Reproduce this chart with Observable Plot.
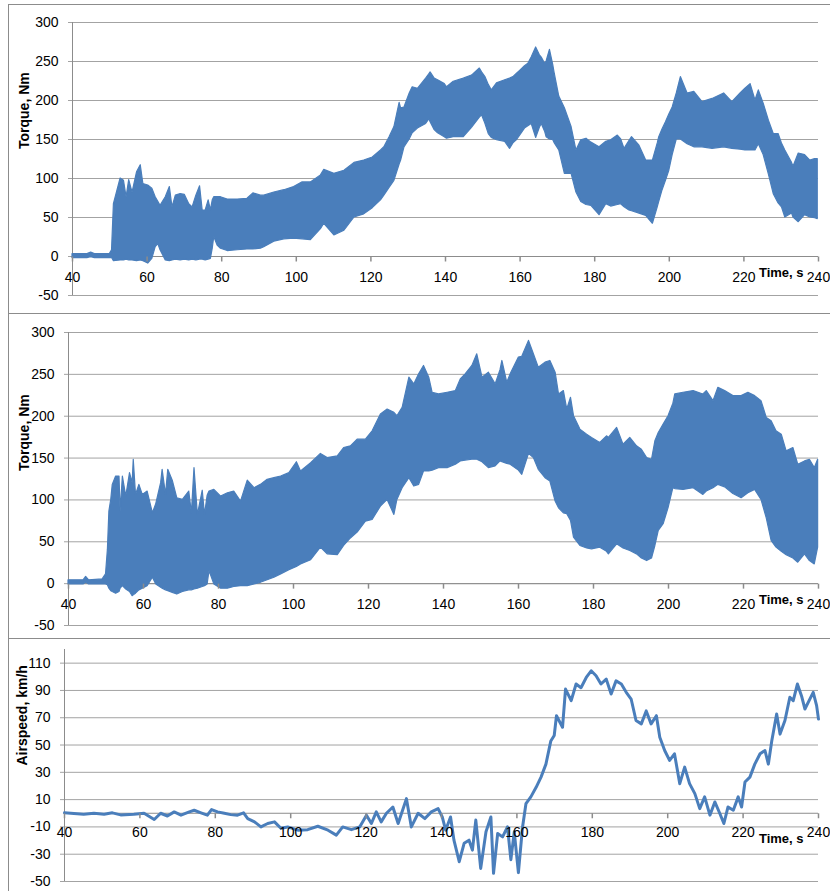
<!DOCTYPE html>
<html><head><meta charset="utf-8">
<script src="https://cdn.jsdelivr.net/npm/d3@7"></script>
<script src="https://cdn.jsdelivr.net/npm/@observablehq/plot@0.6"></script>
<style>
body{margin:0;background:#fff;}
#wrap{position:relative;width:830px;height:891px;overflow:hidden;font-family:"Liberation Sans",Arial,sans-serif;}
.panel{position:absolute;left:8px;width:830px;border-top:1px solid #8c8c8c;border-left:1px solid #8c8c8c;}
.panel svg{display:block;}
</style></head><body>
<div id="wrap">
<div class="panel" id="p1" style="top:4px;height:308px"></div>
<div class="panel" id="p2" style="top:313px;height:324px"></div>
<div class="panel" id="p3" style="top:638px;height:260px"></div>
</div>
<script>
// ---- data ----
const xTicks = [40, 60, 80, 100, 120, 140, 160, 180, 200, 220, 240];
const xDomain = [40, 240];
const xLabel = "Time, s";

const torqueTicks = [-50, 0, 50, 100, 150, 200, 250, 300];
const torqueDomain = [-50, 300];
const torqueLabel = "Torque, Nm";

const airTicks = [-50, -30, -10, 10, 30, 50, 70, 90, 110];
const airDomain = [-50, 120];
const airLabel = "Airspeed, km/h";

// Panel 1: torque band (upper / lower envelope)
const time1 = [
  40, 44, 45, 46, 50, 50.6, 51.1, 52.9, 53.8, 54.5,
  55.2, 56.1, 57.3, 58.3, 59, 60.3, 61.4, 62.3, 63, 63.6,
  65, 66.1, 66.8, 67.7, 69, 70.1, 71.3, 72.2, 73.2, 74.2,
  74.9, 75.7, 76.5, 77.1, 77.6, 78, 78.9, 79.8, 81.6, 84.3,
  86.9, 88.5, 90.5, 91.4, 94.1, 96.8, 99.4, 101.7, 103.9, 106.6,
  107.5, 110.2, 112.9, 115.6, 118.2, 120.5, 122.7, 123.6, 125, 126.3,
  127.7, 128.1, 129, 130.4, 131.2, 132.6, 134.8, 135.7, 136, 137.1,
  138, 139.8, 140.4, 142.2, 144.9, 147.1, 147.6, 149.2, 149.8, 150.7,
  151.6, 152.4, 153.8, 156, 157.3, 158.2, 159.1, 160, 161.3, 162.2,
  163.1, 164.3, 165.3, 165.8, 166.7, 167.1, 168, 168.9, 169.3, 170.5,
  172, 173.8, 175.1, 176.4, 177.8, 179.1, 181.3, 183.1, 184.4, 186.2,
  187.1, 188, 189.3, 190, 192, 193.8, 195.6, 196.9, 197.3, 198.2,
  199.1, 200, 200.9, 202, 203.1, 204.9, 206.7, 208.9, 211.6, 214.7,
  216.9, 219.1, 220.4, 221.8, 223.1, 224, 225.3, 226.7, 228, 229.3,
  230.2, 231.1, 232.9, 233.3, 234.7, 236.4, 237.8, 239.1, 239.8
];
const high1 = [
  3, 3, 5, 3, 3, 8, 67, 100, 97, 76,
  98, 82, 108, 117, 93, 91, 87, 76, 70, 65,
  76, 89, 63, 78, 80, 79, 67, 63, 78, 90,
  59, 59, 72, 59, 72, 76, 76, 76, 73, 73,
  74, 81, 78, 78, 82, 85, 89, 95, 95, 104,
  111, 106, 110, 120, 123, 127, 136, 140, 153, 166,
  197, 190, 191, 209, 217, 215, 228, 234, 236, 228,
  226, 221, 217, 224, 228, 232, 234, 241, 236, 230,
  220, 213, 222, 226, 228, 230, 234, 238, 244, 247,
  255, 268, 258, 255, 247, 250, 265, 245, 234, 205,
  190, 166, 136, 149, 151, 146, 140, 147, 149, 155,
  150, 138, 148, 153, 142, 123, 123, 145, 153, 163,
  172, 182, 191, 209, 230, 209, 211, 198, 202, 209,
  198, 209, 215, 221, 200, 213, 196, 174, 157, 157,
  145, 136, 120, 115, 132, 130, 123, 125, 125
];
const low1 = [
  -2, -2, -1, -2, -2, -2, -6, -5, -5, -4,
  -5, -5, -6, -5, -6, -9, -3, 12, 16, 8,
  -5, -6, -5, -4, -5, -4, -5, -4, -5, -4,
  -4, -5, -4, -3, 10, 25, 14, 10, 7, 8,
  9, 9, 10, 12, 19, 22, 23, 22, 21, 35,
  42, 27, 33, 50, 54, 62, 72, 78, 88, 97,
  118, 123, 140, 150, 158, 164, 170, 176, 172, 162,
  158, 153, 151, 153, 153, 165, 168, 178, 181, 170,
  157, 152, 149, 147, 138, 145, 149, 155, 164, 167,
  170, 152, 165, 170, 160, 153, 150, 149, 145, 136,
  106, 106, 82, 70, 66, 65, 53, 67, 64, 66,
  67, 63, 59, 58, 55, 52, 42, 63, 70, 85,
  97, 110, 130, 150, 150, 144, 140, 140, 138, 140,
  138, 137, 136, 136, 136, 144, 130, 105, 80, 68,
  63, 50, 55, 50, 44, 53, 50, 49, 48
];

// Panel 2: torque band (upper / lower envelope)
const time2 = [
  40, 44, 44.7, 45.5, 49.1, 50, 50.5, 50.9, 51.4, 51.8,
  52.7, 53.6, 53.9, 54.5, 55.4, 56.4, 57.1, 57.4, 58, 58.9,
  59.8, 61.1, 62.5, 63.4, 64.7, 65.1, 66, 66.6, 67.8, 69,
  70.5, 72.2, 72.9, 73.6, 74.5, 75.8, 76.4, 77.1, 77.6, 78.9,
  80.7, 82.5, 84.2, 86, 87.8, 89.6, 91.3, 93.1, 94.9, 96.7,
  98.9, 100.9, 102, 104.7, 107.3, 109.1, 111.8, 113.5, 115.3, 117.1,
  119.3, 121.1, 123.3, 125.1, 126.9, 127.7, 129.1, 130.9, 132.2, 133.5,
  134.8, 136.2, 137.1, 138.8, 141.1, 143.3, 144.6, 145.9, 147.7, 149,
  150.4, 152.1, 153.9, 155.2, 155.7, 157, 157.9, 160.1, 161, 162.8,
  164.1, 165.4, 167.2, 168.5, 169.9, 170.8, 172.1, 173, 174, 174.8,
  176.5, 178.3, 179.6, 181.8, 183.6, 184.1, 186.3, 188, 189.8, 191.6,
  192.9, 194.3, 195.6, 196.5, 197.4, 198.7, 200, 201.3, 201.8, 204,
  206.7, 209.3, 210.2, 212, 213.3, 215.1, 217.3, 219.5, 221.3, 223.1,
  224.8, 226.2, 227.5, 228.8, 230.2, 231.5, 233.3, 234.6, 236.4, 237.7,
  239, 239.9
];
const high2 = [
  4, 4, 8, 4, 5, 11, 40, 86, 100, 118,
  128, 128, 86, 128, 104, 132, 120, 148, 106, 118,
  106, 110, 84, 95, 120, 136, 106, 136, 123, 102,
  100, 110, 84, 138, 82, 111, 82, 105, 110, 112,
  104, 108, 110, 98, 123, 114, 118, 124, 126, 128,
  132, 145, 134, 144, 155, 150, 152, 162, 164, 172,
  172, 182, 202, 208, 204, 200, 210, 246, 238, 250,
  260, 246, 228, 226, 228, 230, 244, 250, 260, 274,
  246, 252, 238, 255, 266, 240, 250, 270, 271, 290,
  274, 258, 264, 266, 252, 226, 230, 208, 222, 200,
  184, 178, 174, 168, 176, 174, 186, 166, 174, 164,
  160, 150, 148, 170, 180, 190, 200, 215, 226, 228,
  230, 226, 230, 218, 234, 230, 224, 224, 228, 224,
  218, 198, 194, 182, 178, 158, 162, 142, 146, 148,
  138, 148
];
const low2 = [
  -1, -1, 1, -1, -1, -1, -2, -6, -9, -10,
  -12, -10, -6, -3, -7, -10, -15, -14, -12, -8,
  -6, -3, 7, -1, -5, -6, -8, -9, -11, -13,
  -10, -8, -8, -7, -6, -4, -3, -1, 15, -1,
  -6, -6, -4, -3, -3, -1, 1, 4, 7, 11,
  16, 20, 23, 28, 43, 35, 34, 45, 54, 61,
  74, 76, 92, 100, 82, 100, 114, 126, 116, 118,
  134, 134, 135, 138, 138, 142, 146, 147, 148, 148,
  145, 138, 140, 146, 145, 143, 142, 135, 130, 155,
  150, 136, 126, 122, 98, 90, 84, 83, 75, 55,
  45, 42, 41, 43, 38, 35, 47, 42, 39, 35,
  30, 27, 30, 45, 63, 71, 90, 114, 113, 112,
  114, 106, 110, 114, 118, 115, 107, 102, 108, 112,
  100, 78, 51, 43, 38, 34, 30, 25, 35, 27,
  23, 43
];

// Panel 3: airspeed line
const time3 = [
  40, 42.5, 45.1, 47.8, 50.5, 52.7, 54.9, 58.4, 61.1, 63.8,
  65.5, 67.3, 69.1, 70.9, 73.1, 74.4, 76.2, 77.9, 79, 80.6,
  82.4, 84.1, 85.9, 87.5, 88.6, 90.4, 92.1, 93.9, 95.7, 97.4,
  99.2, 101.9, 104.5, 107.2, 109.9, 112.1, 113.8, 116.1, 118.3, 120.1,
  121.4, 122.7, 124, 125.4, 127.1, 128.5, 130.7, 132, 133.8, 135.6,
  137.3, 139.1, 140.2, 141.1, 142.4, 143.3, 144.7, 146, 147.3, 148.2,
  149.1, 150.4, 151.8, 153.1, 153.8, 154.9, 156.2, 157.5, 158.4, 159.3,
  160.4, 161.5, 162.4, 163.7, 165.1, 166.4, 167.7, 169, 169.9, 170.5,
  172.1, 172.9, 174.4, 175.7, 177, 178.4, 179.7, 181, 182.3, 183.7,
  185, 186.3, 187.7, 189, 190.3, 191.6, 193, 194.3, 195.6, 197,
  197.9, 199.2, 200.5, 201.8, 203.2, 204.5, 205.8, 207.2, 208.5, 209.8,
  211.2, 212.5, 213.8, 214.9, 216, 217.4, 218.7, 219.6, 220.5, 221.8,
  223.1, 224.5, 225.8, 226.7, 227.6, 228.9, 229.8, 231.1, 232.4, 233.3,
  234.4, 235.5, 236.4, 237.7, 238.6, 239.5, 240
];
const speed3 = [
  0.3, -0.2, -0.7, 0, -0.7, 0.3, -1.2, -0.7, 0, -4.6,
  0, -2, 1, -1.4, 1, 2.2, 0.3, -1.4, 2.7, 1,
  0, -1, -1.4, 0.3, -3.9, -6.3, -10, -7.5, -6.3, -11,
  -10, -12.4, -12, -9.5, -12.4, -16, -10, -12, -10, -1.4,
  -7.5, 1, -6.3, 0, 4.6, -7.5, 10.7, -10, 0, -3.9,
  1, 3.4, -2.7, -12.4, -2.7, -19.7, -35.5, -22, -19.7, -27,
  -5, -40.4, -13.6, -2.7, -44, -14.8, -17.3, -10, -34, -13.6,
  -43.5, -10, 7, 12, 19, 26.5, 36, 53, 57, 71.5,
  63, 91, 82.5, 94.7, 92, 99.5, 104.4, 100.8, 94.7, 98.3,
  87.4, 97, 94.7, 88.6, 83.7, 68, 65.5, 75, 65.5, 71.5,
  55.7, 46, 38.7, 43.6, 21.7, 33.8, 21.7, 14.4, 3.4, 12,
  -1.4, 8.3, 0, -7.5, 4.6, 2.2, 12, 4.6, 22.9, 26.5,
  36, 43.6, 46, 36, 53, 72.8, 58, 68, 85, 82.5,
  94.7, 86, 76.4, 83.7, 88.6, 78.9, 69
];

// ---- rendering ----
const BLUE = "#4a7ebb";
const GRID = "#a3a3a3";
const AXIS = "#8c8c8c";
const FONT = '"Liberation Sans", Arial, sans-serif';

const band1 = time1.map((t, i) => ({t, hi: high1[i], lo: low1[i]}));
const band2 = time2.map((t, i) => ({t, hi: high2[i], lo: low2[i]}));
const line3 = time3.map((t, i) => ({t, v: speed3[i]}));

const tickSym = {draw(ctx) { ctx.moveTo(0, 0); ctx.lineTo(0, 5); }};

function panel(el, o) {
  const chart = Plot.plot({
    width: 821, height: o.height,
    marginTop: o.mt, marginBottom: o.mb, marginLeft: o.ml, marginRight: 12,
    style: {fontFamily: FONT, fontSize: "14px", color: "#000", background: "transparent", overflow: "visible"},
    x: {domain: xDomain, axis: null},
    y: {domain: o.yDomain, axis: null},
    marks: [
      Plot.gridY(o.yTicks, {stroke: GRID, strokeOpacity: 1}),
      Plot.axisY(o.yTicks, {tickSize: 4, tickPadding: 10, stroke: GRID, fill: "#000", tickFormat: d => String(d), label: null, fontSize: 14}),
      Plot.ruleX([xDomain[0]], {stroke: AXIS}),
      Plot.ruleY([0], {stroke: AXIS}),
      ...o.marks,
      Plot.dot(xTicks, {x: d => d, y: 0, symbol: tickSym, stroke: AXIS, fill: "none", r: 2}),
      Plot.text(xTicks, {x: d => d, y: 0, dy: o.labelDy, text: d => String(d), fontSize: 14, fill: "#000"}),
      Plot.text([xLabel], {x: xDomain[1], y: 0, dx: -15, dy: o.timeDy, textAnchor: "end", fontWeight: "bold", fontSize: 13, fill: "#000"}),
      Plot.text([o.title], {frameAnchor: "left", rotate: -90, dx: o.titleDx, dy: o.titleDy, fontWeight: "bold", fontSize: 14, fill: "#000"})
    ]
  });
  document.getElementById(el).appendChild(chart);
}

panel("p1", {
  height: 308, mt: 17, mb: 18, ml: 63,
  yDomain: torqueDomain, yTicks: torqueTicks, title: torqueLabel,
  titleDx: -48, titleDy: -10, labelDy: 21, timeDy: 16,
  marks: [Plot.areaY(band1, {x: "t", y1: "lo", y2: "hi", fill: BLUE, stroke: BLUE, strokeWidth: 1.2})]
});
panel("p2", {
  height: 324, mt: 18, mb: 13, ml: 59,
  yDomain: torqueDomain, yTicks: torqueTicks, title: torqueLabel,
  titleDx: -44, titleDy: -8, labelDy: 21, timeDy: 16,
  marks: [Plot.areaY(band2, {x: "t", y1: "lo", y2: "hi", fill: BLUE, stroke: BLUE, strokeWidth: 1.2})]
});
panel("p3", {
  height: 252, mt: 10, mb: 10, ml: 55,
  yDomain: airDomain, yTicks: airTicks, title: airLabel,
  titleDx: -42, titleDy: 0, labelDy: 19, timeDy: 26,
  marks: [Plot.line(line3, {x: "t", y: "v", stroke: BLUE, strokeWidth: 3, strokeLinejoin: "round"})]
});
</script>
</body></html>
